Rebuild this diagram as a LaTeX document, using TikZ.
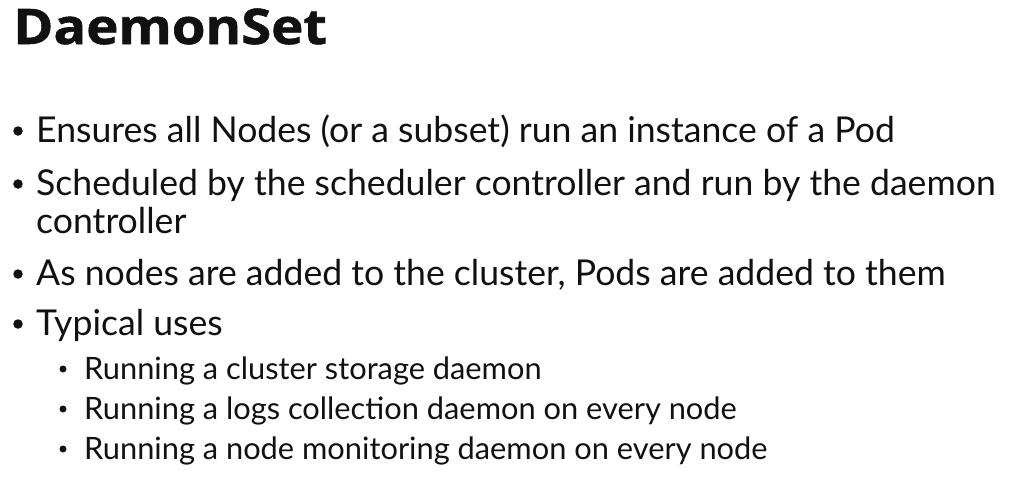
\documentclass[tikz,border=0pt]{standalone}
\usepackage{fontspec}
\setmainfont{Lato}
\newfontfamily\titlefont[FakeStretch=1.11,FakeBold=1.2]{Open Sans}
\definecolor{ink}{HTML}{111111}
\tikzset{
  ttl/.style={anchor=base west, inner sep=0pt, font=\titlefont\bfseries\fontsize{49}{52}\selectfont, text=ink},
  lvone/.style={anchor=base west, inner sep=0pt, font=\fontsize{35.6}{40}\selectfont, text=ink},
  lvtwo/.style={anchor=base west, inner sep=0pt, font=\fontsize{30.8}{34}\selectfont, text=ink},
  dotone/.style={circle, fill=ink, inner sep=0pt, minimum size=9.5pt},
  dottwo/.style={circle, fill=ink, inner sep=0pt, minimum size=7pt},
}
\begin{document}
\begin{tikzpicture}[x=1pt,y=1pt]
\useasboundingbox[fill=white] (0,0) rectangle (1010,-491);
\node[ttl] (title) at (13,-44) {DaemonSet};
\node[dotone] (b1) at (18,-131) {};
\node[lvone] (t1) at (36,-142) {Ensures all Nodes (or a subset) run an instance of a Pod};
\node[dotone] (b2) at (18,-184) {};
\node[lvone] (t2) at (36,-195) {Scheduled by the scheduler controller and run by the daemon};
\node[lvone] (t2b) at (36,-233) {controller};
\node[dotone] (b3) at (18,-274) {};
\node[lvone] (t3) at (36,-285) {As nodes are added to the cluster, Pods are added to them};
\node[dotone] (b4) at (18,-324) {};
\node[lvone] (t4) at (36,-335) {Typical uses};
\node[dottwo] (s1b) at (63,-369) {};
\node[lvtwo] (s1) at (84,-379) {Running a cluster storage daemon};
\node[dottwo] (s2b) at (63,-409) {};
\node[lvtwo] (s2) at (84,-419) {Running a logs collection daemon on every node};
\node[dottwo] (s3b) at (63,-449) {};
\node[lvtwo] (s3) at (84,-459) {Running a node monitoring daemon on every node};
\end{tikzpicture}
\end{document}
